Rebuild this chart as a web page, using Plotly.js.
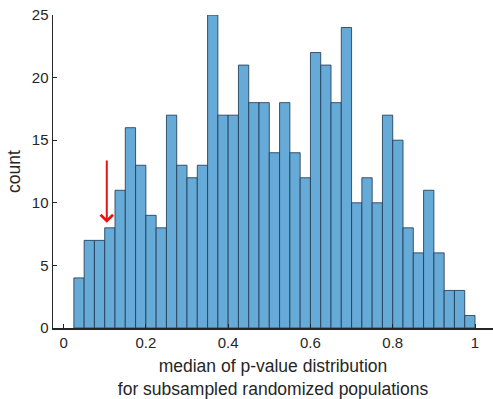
<!DOCTYPE html>
<html>
<head>
<meta charset="utf-8">
<script src="https://cdn.plot.ly/plotly-3.0.1.min.js"></script>
<style>
html,body{margin:0;padding:0;background:#fff;}
#chart{width:493px;height:399px;}
</style>
</head>
<body>
<div id="chart"></div>
<script>
// Bin centres (bin width 0.025, from 0.025 to 1.0)
const binCenters = [0.0375,0.0625,0.0875,0.1125,0.1375,0.1625,0.1875,0.2125,0.2375,0.2625,
  0.2875,0.3125,0.3375,0.3625,0.3875,0.4125,0.4375,0.4625,0.4875,0.5125,
  0.5375,0.5625,0.5875,0.6125,0.6375,0.6625,0.6875,0.7125,0.7375,0.7625,
  0.7875,0.8125,0.8375,0.8625,0.8875,0.9125,0.9375,0.9625,0.9875];
const counts = [4,7,7,8,11,16,13,9,8,17,
  13,12,13,25,17,17,21,18,18,14,
  18,14,12,22,21,18,24,10,12,10,
  17,15,8,6,11,6,3,3,1];
const binWidth = 0.025;
const xTicks = [0,0.2,0.4,0.6,0.8,1];
const xTickLabels = ['0','0.2','0.4','0.6','0.8','1'];
const yTicks = [0,5,10,15,20,25];
const arrowFrom = [0.105, 13.5];
const arrowTo = [0.105, 8.4];

const axisColor = '#262626';
const font = {family: 'Liberation Sans, Arial, Helvetica, sans-serif', size: 15, color: axisColor};

const trace = {
  type: 'bar',
  x: binCenters,
  y: counts,
  width: binWidth,
  marker: {color: '#66aad7', line: {color: 'rgba(35,60,85,0.85)', width: 1}},
  hoverinfo: 'none'
};

const layout = {
  width: 493, height: 399,
  margin: {l: 53, r: 0, t: 15, b: 71, pad: 0},
  paper_bgcolor: '#fff', plot_bgcolor: '#fff',
  font: font,
  showlegend: false,
  bargap: 0,
  xaxis: {
    range: [-0.0257, 1.0437],
    tickvals: xTicks, ticktext: xTickLabels,
    ticks: 'inside', ticklen: 4, tickwidth: 1, tickcolor: axisColor,
    showline: true, linecolor: axisColor, linewidth: 1.5,
    showgrid: false, zeroline: false,
    tickfont: {size: 15, color: axisColor},
    title: {text: 'median of p-value distribution<br>for subsampled randomized populations', font: {size: 17.5, color: axisColor}, standoff: 10}
  },
  yaxis: {
    range: [0, 25],
    tickvals: yTicks,
    ticks: 'inside', ticklen: 4, tickwidth: 1, tickcolor: axisColor,
    showline: true, linecolor: axisColor, linewidth: 1.5,
    showgrid: false, zeroline: false,
    tickfont: {size: 15, color: axisColor},
    title: {text: 'count', font: {size: 17.5, color: axisColor}, standoff: 6}
  },
  annotations: [{
    x: arrowTo[0], y: arrowTo[1], xref: 'x', yref: 'y',
    ax: arrowFrom[0], ay: arrowFrom[1], axref: 'x', ayref: 'y',
    text: '', showarrow: true, arrowhead: 4, arrowsize: 1.2, arrowwidth: 2, arrowcolor: '#ee1111'
  }]
};

Plotly.newPlot('chart', [trace], layout, {displayModeBar: false, staticPlot: true});
</script>
</body>
</html>
